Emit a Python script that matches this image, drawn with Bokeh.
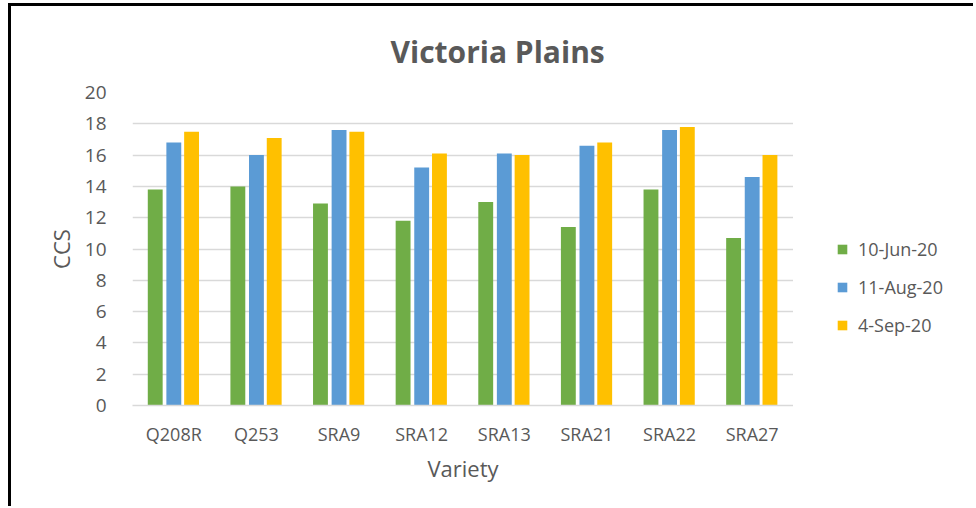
from bokeh.plotting import figure
from bokeh.models import FactorRange, Legend, LegendItem, Title, ColumnDataSource
from bokeh.layouts import row
from bokeh.transform import dodge
from bokeh.embed import file_html
from bokeh.resources import INLINE

varieties = ["Q208R", "Q253", "SRA9", "SRA12", "SRA13", "SRA21", "SRA22", "SRA27"]
series_names = ["10-Jun-20", "11-Aug-20", "4-Sep-20"]
jun = [13.8, 14.0, 12.9, 11.8, 13.0, 11.4, 13.8, 10.7]
aug = [16.8, 16.0, 17.6, 15.2, 16.1, 16.6, 17.6, 14.6]
sep = [17.5, 17.1, 17.5, 16.1, 16.0, 16.8, 17.8, 16.0]
y_ticks = [0, 2, 4, 6, 8, 10, 12, 14, 16, 18, 20]

colors = ["#70AD47", "#5B9BD5", "#FFC000"]
TXT = "#595959"
FONT = "Open Sans"

src = ColumnDataSource(dict(v=varieties, jun=jun, aug=aug, sep=sep))

W_MAIN, W_LEG, H = 782, 180, 500
p = figure(x_range=FactorRange(*varieties, range_padding=0), y_range=(0, 20),
           width=W_MAIN, height=H, output_backend="svg", toolbar_location=None,
           min_border_left=121, min_border_right=0,
           min_border_top=86, min_border_bottom=H - 399)
p.outline_line_color = None
p.background_fill_color = "white"
p.border_fill_color = "white"

for col, off, c in zip(["jun", "aug", "sep"], [-0.225, 0.0, 0.215], colors):
    p.vbar(x=dodge("v", off, range=p.x_range), top=col, width=0.18, bottom=0,
           source=src, fill_color=c, line_color=None)

p.title = Title(text="Victoria Plains", text_font=FONT, text_font_size="30px",
                text_font_style="bold", text_color=TXT, align="left", offset=258,
                standoff=42)

# axes
p.xgrid.grid_line_color = None
p.ygrid.grid_line_color = "#D9D9D9"
p.ygrid.grid_line_width = 1.3
p.yaxis.ticker = y_ticks
p.yaxis.axis_line_color = None
p.yaxis.major_tick_line_color = None
p.yaxis.minor_tick_line_color = None
p.yaxis.major_label_standoff = 20
p.yaxis.major_label_text_font = FONT
p.yaxis.major_label_text_font_size = "19px"
p.yaxis.major_label_text_color = TXT
p.yaxis.axis_label = "CCS"
p.yaxis.axis_label_text_font = FONT
p.yaxis.axis_label_text_font_size = "22px"
p.yaxis.axis_label_text_font_style = "normal"
p.yaxis.axis_label_text_color = TXT
p.yaxis.axis_label_standoff = 6

p.xaxis.axis_line_color = "#D9D9D9"
p.xaxis.axis_line_width = 1.3
p.xaxis.major_tick_line_color = None
p.xaxis.minor_tick_line_color = None
p.xaxis.major_label_standoff = 10
p.xaxis.major_label_text_font = FONT
p.xaxis.major_label_text_font_size = "18px"
p.xaxis.major_label_text_color = TXT
p.xaxis.axis_label = "Variety"
p.xaxis.axis_label_text_font = FONT
p.xaxis.axis_label_text_font_size = "22px"
p.xaxis.axis_label_text_font_style = "normal"
p.xaxis.axis_label_text_color = TXT
p.xaxis.axis_label_standoff = 4

# legend panel (its renderers lie outside its own view; only the legend shows)
pl = figure(x_range=(0, 1), y_range=(0, 1), width=W_LEG, height=H,
            output_backend="svg", toolbar_location=None,
            min_border_left=0, min_border_right=0, min_border_top=0, min_border_bottom=0)
pl.axis.visible = False
pl.grid.grid_line_color = None
pl.outline_line_color = None
pl.background_fill_color = "white"
pl.border_fill_color = "white"
leg_renderers = [pl.vbar(x=col, top=col, width=0.1, source=src, fill_color=c, line_color=None)
                 for col, c in zip(["jun", "aug", "sep"], colors)]
legend = Legend(items=[LegendItem(label=n, renderers=[r]) for n, r in zip(series_names, leg_renderers)],
                location=(43, 68), padding=0, margin=0, spacing=14,
                glyph_width=12, glyph_height=12, label_height=20, label_standoff=10,
                label_text_font=FONT, label_text_font_size="18px", label_text_color=TXT,
                border_line_color=None, background_fill_alpha=0)
pl.add_layout(legend, "center")

layout = row(p, pl, spacing=0)
layout.styles = {"border-left": "3px solid black", "border-top": "3px solid black",
                 "margin-left": "8px", "margin-top": "3px"}

open("out.html", "w").write(file_html(layout, INLINE))
